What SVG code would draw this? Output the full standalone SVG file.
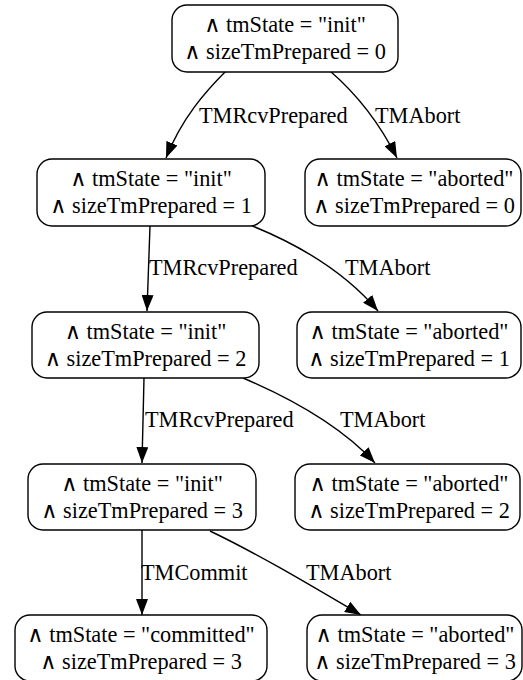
<svg xmlns="http://www.w3.org/2000/svg" width="523" height="680" viewBox="0 0 523 680">
  <style>
    .node rect { fill: #ffffff; stroke: #000000; stroke-width: 1.4; }
    .node text { font-family: 'Liberation Serif', Tinos, 'Times New Roman', Times, 'DejaVu Serif', serif; font-size: 22.3px; fill: #000000; text-anchor: middle; }
    .edge path { fill: none; stroke: #000000; stroke-width: 1.4; }
    .elabel { font-family: 'Liberation Serif', Tinos, 'Times New Roman', Times, 'DejaVu Serif', serif; font-size: 22.3px; fill: #000000; }
  </style>
  <defs>
    <marker id="arrow" viewBox="0 0 16 12" refX="16" refY="6" markerWidth="16" markerHeight="12" markerUnits="userSpaceOnUse" orient="auto">
      <path d="M0,0 L16,6 L0,12 Z" fill="#000000"/>
    </marker>
  </defs>
  <rect width="523" height="680" fill="#ffffff"/>

  <!-- transitions -->
  <g id="edges">
    <g class="edge"><path d="M226,71 C205,92 182,118 166,158" marker-end="url(#arrow)"/></g>
    <g class="edge"><path d="M330,71 C352,90 378,120 397,158" marker-end="url(#arrow)"/></g>
    <g class="edge"><path d="M150,226 L147,311" marker-end="url(#arrow)"/></g>
    <g class="edge"><path d="M250,225 C300,245 345,272 378,311" marker-end="url(#arrow)"/></g>
    <g class="edge"><path d="M144,378 L142,463" marker-end="url(#arrow)"/></g>
    <g class="edge"><path d="M243,378 C290,398 340,425 375,463" marker-end="url(#arrow)"/></g>
    <g class="edge"><path d="M142,530 L142,615" marker-end="url(#arrow)"/></g>
    <g class="edge"><path d="M210,531 C260,555 310,585 361,615" marker-end="url(#arrow)"/></g>
    <text class="elabel" x="199" y="123" font-family="Liberation Serif">TMRcvPrepared</text>
    <text class="elabel" x="375" y="123" font-family="Liberation Serif">TMAbort</text>
    <text class="elabel" x="149" y="275">TMRcvPrepared</text>
    <text class="elabel" x="345" y="275">TMAbort</text>
    <text class="elabel" x="145" y="427">TMRcvPrepared</text>
    <text class="elabel" x="340" y="427">TMAbort</text>
    <text class="elabel" x="141" y="580">TMCommit</text>
    <text class="elabel" x="306" y="580">TMAbort</text>
  </g>

  <!-- states -->
  <g id="s_init_0" class="node">
    <rect x="172" y="5" width="226" height="67" rx="15"/>
    <text x="285" y="32">∧ tmState = "init"</text>
    <text x="285" y="59">∧ sizeTmPrepared = 0</text>
  </g>
  <g id="s_init_1" class="node">
    <rect x="37" y="159" width="228" height="67" rx="15"/>
    <text x="151" y="186">∧ tmState = "init"</text>
    <text x="151" y="213">∧ sizeTmPrepared = 1</text>
  </g>
  <g id="s_aborted_0" class="node">
    <rect x="305" y="159" width="216" height="67" rx="15"/>
    <text x="414" y="186">∧ tmState = "aborted"</text>
    <text x="414" y="213">∧ sizeTmPrepared = 0</text>
  </g>
  <g id="s_init_2" class="node">
    <rect x="32" y="312" width="227" height="66" rx="15"/>
    <text x="145.5" y="338.5">∧ tmState = "init"</text>
    <text x="145.5" y="365.5">∧ sizeTmPrepared = 2</text>
  </g>
  <g id="s_aborted_1" class="node">
    <rect x="297" y="312" width="224" height="66" rx="15"/>
    <text x="409" y="338.5">∧ tmState = "aborted"</text>
    <text x="409" y="365.5">∧ sizeTmPrepared = 1</text>
  </g>
  <g id="s_init_3" class="node">
    <rect x="28" y="464" width="228" height="66" rx="15"/>
    <text x="142" y="490.5">∧ tmState = "init"</text>
    <text x="142" y="517.5">∧ sizeTmPrepared = 3</text>
  </g>
  <g id="s_aborted_2" class="node">
    <rect x="295" y="464" width="225" height="66" rx="15"/>
    <text x="409" y="490.5">∧ tmState = "aborted"</text>
    <text x="409" y="517.5">∧ sizeTmPrepared = 2</text>
  </g>
  <g id="s_committed_3" class="node">
    <rect x="15" y="615" width="252" height="66" rx="15"/>
    <text x="141" y="641.5">∧ tmState = "committed"</text>
    <text x="141" y="668.5">∧ sizeTmPrepared = 3</text>
  </g>
  <g id="s_aborted_3" class="node">
    <rect x="307" y="615" width="215" height="66" rx="15"/>
    <text x="415" y="641.5">∧ tmState = "aborted"</text>
    <text x="415" y="668.5">∧ sizeTmPrepared = 3</text>
  </g>
</svg>
